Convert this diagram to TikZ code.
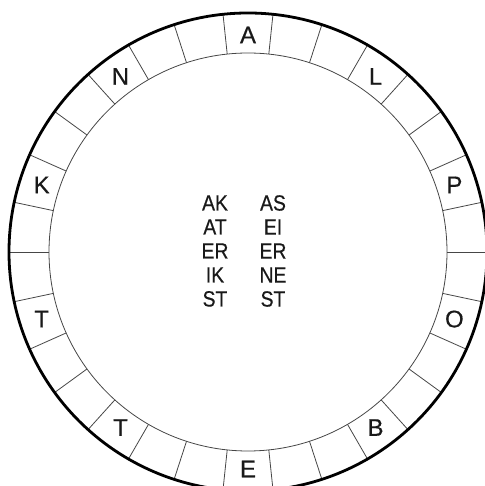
\documentclass[tikz,border=0pt]{standalone}
\usepackage{fontspec}
\setmainfont{Liberation Sans}[FakeBold=0.5]
\definecolor{ringgray}{RGB}{70,70,70}
\definecolor{ink}{RGB}{25,25,25}

\begin{document}
\begin{tikzpicture}[x=1pt,y=1pt]

    \useasboundingbox (-248,-234) rectangle (236,252);
    \coordinate (O) at (0,0);

    %% --- Ring of 30 cells ---
    \draw[ringgray, line width=0.8pt] (O) circle (199);
    \foreach \a in {0,12,...,348}
        \draw[ringgray, line width=0.8pt] (\a:199) -- (\a:239);
    \draw[black, line width=2.8pt] (O) circle (239);

    %% Letters, every third cell
    \foreach \a/\n/\l in {90/A/A, 54/L/L, 18/P/P, -18/O/O, -54/B/B, -90/E/E,
                          -126/Tb/T, -162/Ta/T, 162/K/K, 126/N/N}
        \node[ink, font=\fontsize{24}{24}\selectfont] (cell\n) at (\a:217) {\l};

    %% Centre words
    \node[ink, align=center, xscale=0.88, font=\fontsize{22}{24}\selectfont] (wordsL) at (-33,1)
        {AK\\AT\\ER\\IK\\ST};
    \node[ink, align=center, xscale=0.88, font=\fontsize{22}{24}\selectfont] (wordsR) at (25,1)
        {AS\\EI\\ER\\NE\\ST};

\end{tikzpicture}
\end{document}
